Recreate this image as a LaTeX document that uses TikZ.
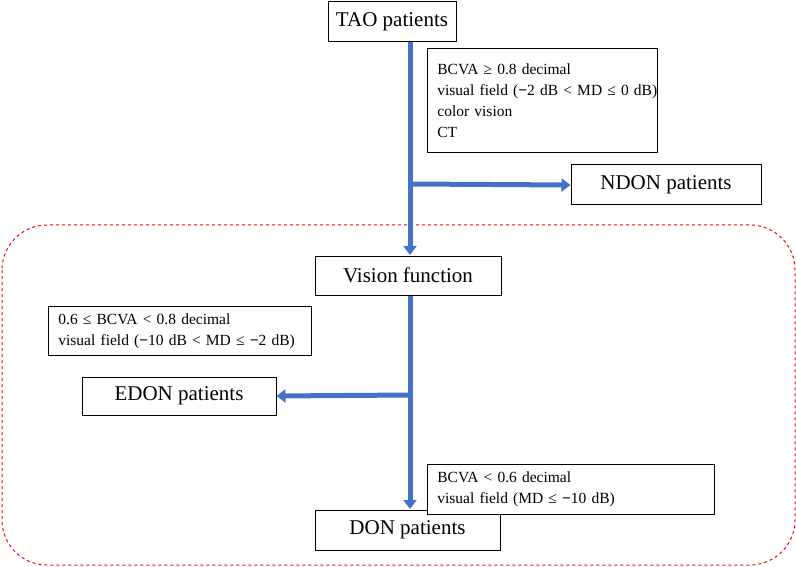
\documentclass[tikz,border=0pt]{standalone}
\usepackage{fontspec}
\setmainfont{Liberation Serif}
\usepackage{tikz}
\usetikzlibrary{arrows.meta,positioning,calc}
\definecolor{flowblue}{RGB}{68,114,196}
\newcommand{\mn}{\textbf{−}}
\begin{document}
\begin{tikzpicture}[x=1pt,y=-1pt,
    stage/.style={draw,line width=1pt,fill=white,inner sep=0pt,font=\fontsize{21}{24}\selectfont},
    note/.style={draw,line width=0.8pt,fill=white,align=left,anchor=north west,inner xsep=10pt,inner ysep=5pt,font=\fontsize{15.5}{21}\selectfont},
    flow/.style={draw=flowblue,line width=5pt,-{Triangle[length=9pt,width=13pt]}}]
        \useasboundingbox (0,0) rectangle (796,567);
        % dashed region
        \draw[red,dashed,line width=1pt,rounded corners=45pt] (2,225) rectangle (795,565);
        % stage boxes
        \node[stage,minimum width=128pt,minimum height=40pt] (tao) at (392,22) {TAO patients};
        \node[stage,minimum width=190pt,minimum height=40pt] (ndon) at (666,185) {NDON patients};
        \node[stage,minimum width=186pt,minimum height=39pt] (vis) at (408,275.5) {Vision function};
        \node[stage,minimum width=194pt,minimum height=38pt] (edon) at (179,396) {EDON patients};
        \node[stage,minimum width=185pt,minimum height=40pt] (don) at (407.5,530) {DON patients};
        % criteria
        \node[note,text width=210pt,minimum height=104pt] (c1) at (427,48) {\mbox{BCVA ≥ 0.8 decimal}\\\mbox{visual field (\mn2 dB < MD ≤ 0 dB)}\\color vision\\CT};
        \node[note,text width=243pt,minimum height=49pt] (c2) at (48,306) {\mbox{0.6 ≤ BCVA < 0.8 decimal}\\\mbox{visual field (\mn10 dB < MD ≤ \mn2 dB)}};
        \node[note,text width=267pt,minimum height=50pt] (c3) at (427,464) {\mbox{BCVA < 0.6 decimal}\\\mbox{visual field (MD ≤ \mn10 dB)}};
        % arrows
        \coordinate (j1) at (410,184);
        \coordinate (j2) at (410,395);
        \draw[draw=flowblue,line width=5pt] (410,42) -- (j1);
        \draw[flow] (j1) -- (410,255);
        \draw[flow] (j1) -- (ndon.west);
        \draw[draw=flowblue,line width=5pt] (410,295.5) -- (j2);
        \draw[flow] (j2) -- (410,509);
        \draw[flow] (j2) -- (edon.east);
\end{tikzpicture}
\end{document}
